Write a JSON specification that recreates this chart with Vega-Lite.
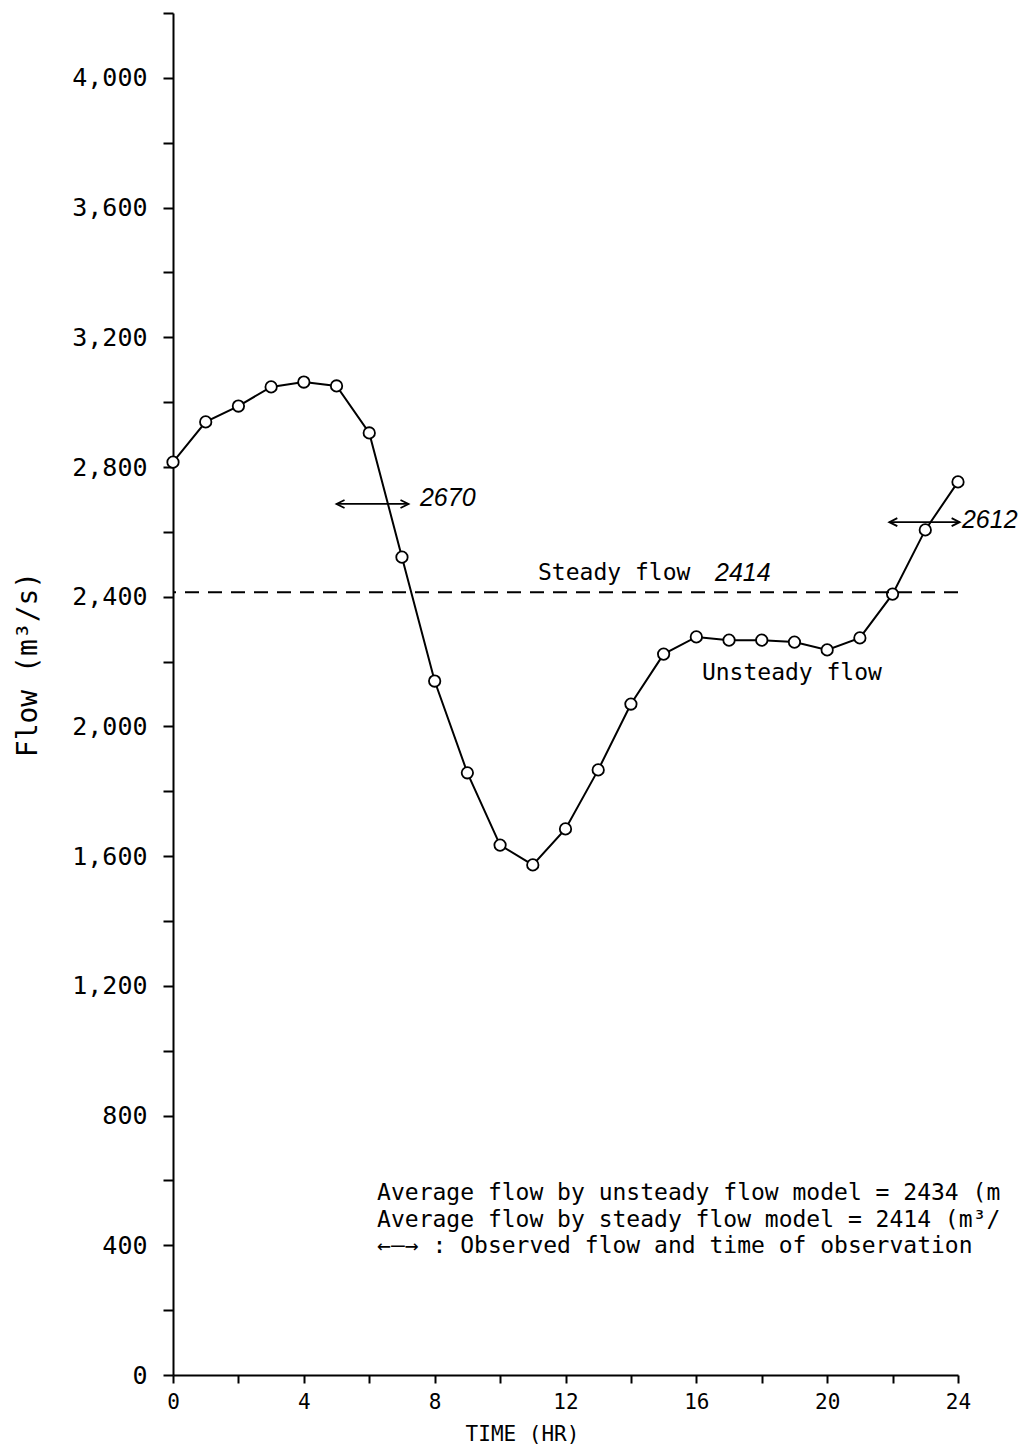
{
  "$schema": "https://vega.github.io/schema/vega-lite/v6.json",
  "width": 785,
  "height": 1362,
  "autosize": {"type": "none"},
  "padding": {"left": 173, "top": 13, "right": 60, "bottom": 75},
  "background": "white",
  "config": {"view": {"stroke": null}, "font": "DejaVu Sans Mono"},
  "datasets": {
    "flow": [
      {"t": 0, "q": 2815}, {"t": 1, "q": 2939}, {"t": 2, "q": 2988}, {"t": 3, "q": 3047},
      {"t": 4, "q": 3062}, {"t": 5, "q": 3050}, {"t": 6, "q": 2905}, {"t": 7, "q": 2522},
      {"t": 8, "q": 2140}, {"t": 9, "q": 1857}, {"t": 10, "q": 1634}, {"t": 11, "q": 1573},
      {"t": 12, "q": 1684}, {"t": 13, "q": 1866}, {"t": 14, "q": 2069}, {"t": 15, "q": 2223},
      {"t": 16, "q": 2276}, {"t": 17, "q": 2266}, {"t": 18, "q": 2266}, {"t": 19, "q": 2260},
      {"t": 20, "q": 2236}, {"t": 21, "q": 2273}, {"t": 22, "q": 2408}, {"t": 23, "q": 2606},
      {"t": 24, "q": 2754}
    ],
    "steady": [{"q": 2414}],
    "arrows": [
      {"t1": 5.0, "t2": 7.2, "q": 2686},
      {"t1": 21.9, "t2": 24.05, "q": 2630}
    ],
    "notes": [
      {"t": 11.16, "q": 2473, "text": "Steady flow"},
      {"t": 16.17, "q": 2165, "text": "Unsteady flow"},
      {"t": 6.24, "q": 561, "text": "Average flow by unsteady flow model = 2434 (m"},
      {"t": 6.24, "q": 478, "text": "Average flow by steady flow model = 2414 (m³/"},
      {"t": 6.24, "q": 398, "text": "←—→ : Observed flow and time of observation"}
    ],
    "hand": [
      {"t": 16.57, "q": 2473, "text": "2414"},
      {"t": 7.55, "q": 2704, "text": "2670"},
      {"t": 24.12, "q": 2637, "text": "2612"}
    ]
  },
  "layer": [
    {
      "data": {"name": "flow"},
      "mark": {"type": "line", "color": "black", "strokeWidth": 2},
      "encoding": {
        "x": {
          "field": "t", "type": "quantitative",
          "scale": {"domain": [0, 24], "nice": false},
          "axis": {
            "values": [0, 2, 4, 6, 8, 10, 12, 14, 16, 18, 20, 22, 24],
            "labelExpr": "datum.value % 4 == 0 ? datum.label : ''",
            "grid": false,
            "domainColor": "black", "domainWidth": 2,
            "tickColor": "black", "tickWidth": 2, "tickSize": 8,
            "labelFont": "DejaVu Sans Mono", "labelFontSize": 21, "labelColor": "black",
            "labelPadding": 8, "labelOverlap": false, "labelFlush": false,
            "title": "TIME (HR)",
            "titleFont": "DejaVu Sans Mono", "titleFontSize": 21, "titleFontWeight": "normal",
            "titleColor": "black",
            "titleX": 349, "titleY": 59, "titleAlign": "center", "titleBaseline": "middle"
          }
        },
        "y": {
          "field": "q", "type": "quantitative",
          "scale": {"domain": [0, 4200], "nice": false},
          "axis": {
            "values": [0, 200, 400, 600, 800, 1000, 1200, 1400, 1600, 1800, 2000, 2200, 2400, 2600, 2800, 3000, 3200, 3400, 3600, 3800, 4000, 4200],
            "labelExpr": "datum.value % 400 == 0 && datum.value < 4200 ? format(datum.value, ',') : ''",
            "grid": false,
            "domainColor": "black", "domainWidth": 2,
            "tickColor": "black", "tickWidth": 2, "tickSize": 10,
            "labelFont": "DejaVu Sans Mono", "labelFontSize": 25, "labelColor": "black",
            "labelPadding": 16, "labelOverlap": false, "labelFlush": false,
            "title": "Flow  (m³/s)",
            "titleFont": "DejaVu Sans Mono", "titleFontSize": 28, "titleFontWeight": "normal",
            "titleColor": "black", "titleAngle": 270,
            "titleX": -145, "titleY": 651, "titleAlign": "center", "titleBaseline": "middle"
          }
        }
      }
    },
    {
      "data": {"name": "flow"},
      "mark": {"type": "point", "shape": "circle", "filled": true, "fill": "white", "stroke": "black", "strokeWidth": 1.8, "size": 130, "opacity": 1},
      "encoding": {
        "x": {"field": "t", "type": "quantitative"},
        "y": {"field": "q", "type": "quantitative"}
      }
    },
    {
      "data": {"name": "steady"},
      "mark": {"type": "rule", "color": "black", "strokeWidth": 2, "strokeDash": [14, 9]},
      "encoding": {"y": {"field": "q", "type": "quantitative"}}
    },
    {
      "data": {"name": "arrows"},
      "mark": {"type": "rule", "color": "black", "strokeWidth": 1.8},
      "encoding": {
        "x": {"field": "t1", "type": "quantitative"},
        "x2": {"field": "t2"},
        "y": {"field": "q", "type": "quantitative"}
      }
    },
    {
      "data": {"name": "arrows"},
      "mark": {"type": "point", "shape": "M 2 -1 L 0 0 L 2 1", "filled": false, "stroke": "black", "strokeWidth": 1.8, "size": 64, "opacity": 1},
      "encoding": {
        "x": {"field": "t1", "type": "quantitative"},
        "y": {"field": "q", "type": "quantitative"}
      }
    },
    {
      "data": {"name": "arrows"},
      "mark": {"type": "point", "shape": "M -2 -1 L 0 0 L -2 1", "filled": false, "stroke": "black", "strokeWidth": 1.8, "size": 64, "opacity": 1},
      "encoding": {
        "x": {"field": "t2", "type": "quantitative"},
        "y": {"field": "q", "type": "quantitative"}
      }
    },
    {
      "data": {"name": "notes"},
      "mark": {"type": "text", "font": "DejaVu Sans Mono", "fontSize": 23, "align": "left", "baseline": "middle", "color": "black"},
      "encoding": {
        "x": {"field": "t", "type": "quantitative"},
        "y": {"field": "q", "type": "quantitative"},
        "text": {"field": "text"}
      }
    },
    {
      "data": {"name": "hand"},
      "mark": {"type": "text", "font": "Liberation Sans", "fontStyle": "italic", "fontSize": 25, "align": "left", "baseline": "middle", "color": "black"},
      "encoding": {
        "x": {"field": "t", "type": "quantitative"},
        "y": {"field": "q", "type": "quantitative"},
        "text": {"field": "text"}
      }
    }
  ]
}
